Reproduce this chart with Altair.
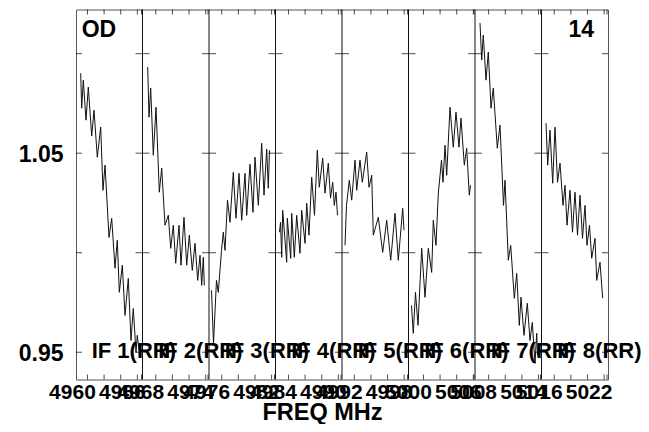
import altair as alt
import pandas as pd

# ---------------- data ----------------
if_labels = ["IF 1(RR)", "IF 2(RR)", "IF 3(RR)", "IF 4(RR)",
             "IF 5(RR)", "IF 6(RR)", "IF 7(RR)", "IF 8(RR)"]
if_start = [4958.62, 4966.40, 4974.47, 4982.44, 4990.52, 4998.20, 5006.36, 5014.47]
if_first_label = [4960, 4968, 4976, 4984, 4992, 5000, 5008, 5016]
panel_span = 8.0
tick_step = 2.0
y_tick_values = [0.95, 1.00, 1.05, 1.10]
y_label_values = [0.95, 1.05]

# frequency offset from IF edge (MHz) and amplitude
if1_df = [0.565, 0.686, 0.878, 1.203, 1.480, 1.889, 2.165, 2.562, 2.971, 3.248, 3.489, 3.970,
          4.295, 4.692, 4.968, 5.209, 5.570, 5.895, 6.292, 6.617, 6.893, 7.218, 7.374, 7.579]
if1_amp = [1.0902, 1.0726, 1.0867, 1.0666, 1.0832, 1.0586, 1.0716, 1.0480, 1.0631, 1.0314, 1.0440, 1.0077,
           1.0173, 0.9922, 1.0062, 0.9801, 0.9937, 0.9685, 0.9871, 0.9559, 0.9720, 0.9499, 0.9585, 0.9509]

if2_df = [0.626, 0.782, 0.986, 1.299, 1.624, 2.021, 2.310, 2.707, 3.104, 3.392, 3.705, 3.994,
          4.391, 4.632, 4.992, 5.317, 5.630, 5.991, 6.316, 6.641, 6.917, 7.122, 7.314, 7.435]
if2_amp = [1.0933, 1.0681, 1.0827, 1.0490, 1.0731, 1.0304, 1.0425, 1.0138, 1.0188, 1.0022, 1.0138, 0.9947,
           1.0138, 0.9937, 1.0178, 0.9937, 1.0088, 0.9911, 1.0047, 0.9861, 0.9987, 0.9836, 0.9977, 0.9836]

if3_df = [0.301, 0.541, 0.902, 1.119, 1.504, 1.720, 1.925, 2.226, 2.526, 2.923, 3.248, 3.609,
          3.934, 4.331, 4.535, 4.932, 5.293, 5.534, 5.931, 6.340, 6.617, 6.941, 7.134, 7.278]
if3_amp = [0.9811, 0.9544, 0.9861, 0.9801, 1.0012, 1.0103, 1.0012, 1.0264, 1.0153, 1.0404, 1.0173, 1.0399,
           1.0163, 1.0399, 1.0188, 1.0445, 1.0203, 1.0480, 1.0238, 1.0550, 1.0289, 1.0520, 1.0324, 1.0515]

if4_df = [0.481, 0.602, 0.746, 0.866, 1.347, 1.420, 1.829, 1.949, 2.262, 2.550, 2.947, 3.152, 3.549, 3.753,
          4.030, 4.355, 4.692, 5.029, 5.269, 5.678, 5.955, 6.352, 6.617, 6.881, 7.074, 7.278, 7.459]
if4_amp = [1.0103, 1.0153, 0.9977, 1.0213, 0.9952, 1.0173, 0.9972, 1.0198, 0.9977, 1.0188, 0.9997, 1.0213,
           1.0047, 1.0249, 1.0088, 1.0379, 1.0188, 1.0515, 1.0329, 1.0475, 1.0299, 1.0450, 1.0274, 1.0354,
           1.0238, 1.0304, 1.0188]

if5_df = [0.361, 0.541, 0.878, 1.167, 1.564, 1.768, 2.165, 2.442, 2.971, 3.248, 3.573, 3.765,
          4.367, 4.896, 5.377, 5.859, 6.376, 6.773, 7.302, 7.459]
if5_amp = [1.0037, 1.0238, 1.0364, 1.0264, 1.0465, 1.0314, 1.0465, 1.0354, 1.0505, 1.0329, 1.0389, 1.0088,
           1.0178, 1.0002, 1.0163, 0.9962, 1.0198, 0.9962, 1.0223, 1.0113]

if6_df = [0.361, 0.577, 0.842, 1.143, 1.588, 1.985, 2.382, 2.791, 2.983, 3.308, 3.585, 3.970,
          4.150, 4.391, 4.595, 4.992, 5.389, 5.714, 6.075, 6.316, 6.713, 6.999, 7.314, 7.459]
if6_amp = [0.9735, 0.9595, 0.9801, 0.9635, 1.0022, 0.9776, 1.0022, 0.9901, 1.0163, 1.0037, 1.0299, 1.0465,
           1.0354, 1.0540, 1.0389, 1.0731, 1.0530, 1.0706, 1.0530, 1.0676, 1.0440, 1.0525, 1.0289, 1.0339]

if7_df = [0.602, 0.806, 0.998, 1.323, 1.600, 1.925, 2.201, 2.683, 3.008, 3.429, 3.609, 4.006,
          4.295, 4.728, 5.017, 5.329, 5.534, 5.895, 6.292, 6.617, 6.893, 7.218, 7.423, 7.519]
if7_amp = [1.1154, 1.0968, 1.1094, 1.0867, 1.1008, 1.0726, 1.0827, 1.0525, 1.0641, 1.0238, 1.0364, 0.9962,
           1.0037, 0.9771, 0.9896, 0.9635, 0.9776, 0.9585, 0.9746, 0.9559, 0.9650, 0.9444, 0.9595, 0.9484]

if8_df = [0.541, 0.746, 1.023, 1.347, 1.624, 1.925, 2.226, 2.586, 2.827, 3.068, 3.429, 3.729,
          4.030, 4.331, 4.632, 4.932, 5.233, 5.474, 5.774, 6.039, 6.436, 6.641, 7.038, 7.362]
if8_amp = [1.0651, 1.0440, 1.0616, 1.0349, 1.0631, 1.0354, 1.0450, 1.0238, 1.0339, 1.0138, 1.0314, 1.0103,
           1.0304, 1.0088, 1.0289, 1.0072, 1.0238, 1.0037, 1.0138, 0.9972, 1.0072, 0.9861, 0.9952, 0.9771]

all_df = [if1_df, if2_df, if3_df, if4_df, if5_df, if6_df, if7_df, if8_df]
all_amp = [if1_amp, if2_amp, if3_amp, if4_amp, if5_amp, if6_amp, if7_amp, if8_amp]

# ---------------- tables ----------------
rows = []
for i, (dfs, amps) in enumerate(zip(all_df, all_amp)):
    for d, a in zip(dfs, amps):
        rows.append({"panel": i, "freq": if_start[i] + d,
                     "pos": i * panel_span + d, "amp": a})
spec = pd.DataFrame(rows)

bounds = pd.DataFrame({"pos": [i * panel_span for i in range(len(if_labels))],
                       "label": if_labels})
inner = pd.DataFrame([{"pos": i * panel_span, "v": v}
                      for i in range(1, len(if_labels)) for v in y_tick_values])
left_edge = pd.DataFrame({"pos": [0.0] * len(y_tick_values), "v": y_tick_values})
right_edge = pd.DataFrame({"pos": [len(if_labels) * panel_span] * len(y_tick_values), "v": y_tick_values})

xt = []
xl = []
for i in range(len(if_labels)):
    for k in range(4):
        f = if_first_label[i] + k * tick_step
        xt.append({"pos": i * panel_span + (f - if_start[i])})
    xt.append({"pos": i * panel_span + 7.88})
    for k in (0, 3):
        f = if_first_label[i] + k * tick_step
        xl.append({"pos": i * panel_span + (f - if_start[i]), "label": str(int(f))})
xticks = pd.DataFrame(xt)
xlabels = pd.DataFrame(xl)
ylabels = pd.DataFrame({"v": y_label_values, "label": [f"{v:.2f}" for v in y_label_values]})

W, H = 532, 370
FONT = "Liberation Sans"
xs = alt.Scale(domain=[0, len(if_labels) * panel_span], nice=False, zero=False)
ys = alt.Scale(domain=[0.9363, 1.1222], nice=False, zero=False)
X = lambda: alt.X("pos:Q", scale=xs, axis=None)
Y = lambda: alt.Y("v:Q", scale=ys, axis=None)

lines = alt.Chart(spec).mark_line(color="#111", strokeWidth=1, clip=True).encode(
    x=X(), y=alt.Y("amp:Q", scale=ys, axis=None), detail="panel:N")

dividers = alt.Chart(bounds[bounds["pos"] > 0]).mark_rule(color="#111", strokeWidth=1).encode(x=X())

ytick_in = alt.Chart(inner).mark_tick(orient="horizontal", size=14, thickness=1, color="black").encode(x=X(), y=Y())
ytick_l = alt.Chart(left_edge).mark_tick(orient="horizontal", size=6, thickness=1, color="black", xOffset=3).encode(x=X(), y=Y())
ytick_r = alt.Chart(right_edge).mark_tick(orient="horizontal", size=6, thickness=1, color="black", xOffset=-3).encode(x=X(), y=Y())

xtick_top = alt.Chart(xticks).mark_tick(orient="vertical", size=5, thickness=1, color="black").encode(
    x=X(), y=alt.value(2.5))
xtick_bot = alt.Chart(xticks).mark_tick(orient="vertical", size=5, thickness=1, color="black").encode(
    x=X(), y=alt.value(H - 2.5))

xlab = alt.Chart(xlabels).mark_text(align="center", baseline="alphabetic", dx=-15, font=FONT,
                                    fontWeight="bold", fontSize=21, color="black").encode(
    x=X(), y=alt.value(H + 19.5), text="label:N")

ylab = alt.Chart(ylabels).mark_text(align="right", baseline="alphabetic", dy=9, font=FONT,
                                    fontWeight="bold", fontSize=23, color="black").encode(
    x=alt.value(-12.5), y=Y(), text="label:N")

iflab = alt.Chart(bounds).mark_text(align="left", baseline="alphabetic", dx=15.7, font=FONT,
                                    fontWeight="bold", fontSize=22, color="black").encode(
    x=X(), y=alt.value(348.5), text="label:N")

od = alt.Chart(pd.DataFrame({"t": ["OD"]})).mark_text(align="left", baseline="alphabetic", font=FONT,
                                                      fontWeight="bold", fontSize=23, color="black").encode(
    x=alt.value(5.7), y=alt.value(27.2), text="t:N")
num = alt.Chart(pd.DataFrame({"t": ["14"]})).mark_text(align="right", baseline="alphabetic", font=FONT,
                                                       fontWeight="bold", fontSize=23, color="black").encode(
    x=alt.value(W - 14), y=alt.value(27.8), text="t:N")
xtitle = alt.Chart(pd.DataFrame({"t": ["FREQ MHz"]})).mark_text(align="center", baseline="alphabetic", font=FONT,
                                                                fontWeight="bold", fontSize=23.5, color="black").encode(
    x=alt.value(246.5), y=alt.value(410), text="t:N")

chart = alt.layer(lines, dividers, ytick_in, ytick_l, ytick_r, xtick_top, xtick_bot,
                  xlab, ylab, iflab, od, num, xtitle).properties(
    width=W, height=H,
    autosize=alt.AutoSizeParams(type="none"),
    padding={"left": 68, "top": 1.5, "right": 33, "bottom": 44},
).configure_view(stroke="#555", strokeWidth=1)

chart.save("out.html", embed_options={"renderer": "svg", "actions": False})
